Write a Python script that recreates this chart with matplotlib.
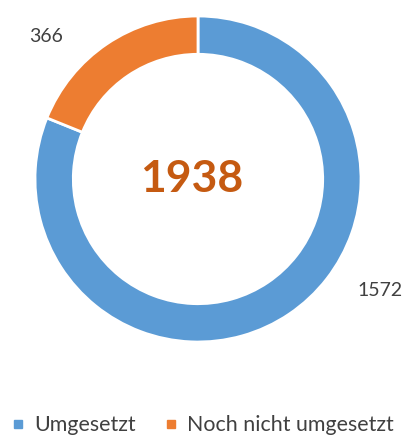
import matplotlib
matplotlib.use("Agg")
import matplotlib.pyplot as plt
from matplotlib.lines import Line2D

plt.rcParams['font.family'] = ['Lato', 'DejaVu Sans']

labels = ['Umgesetzt', 'Noch nicht umgesetzt']
values = [1572, 366]
colors = ['#5B9BD5', '#ED7D31']
total = sum(values)

fig = plt.figure(figsize=(4.03, 4.38), dpi=100)
ax = fig.add_axes([35 / 403, 96 / 438, 326 / 403, 326 / 438])

wedges, _ = ax.pie(values, colors=colors, startangle=90, counterclock=False,
                   radius=1.0,
                   wedgeprops=dict(width=0.235, edgecolor='white', linewidth=2))
ax.set_xlim(-1, 1)
ax.set_ylim(-1, 1)
ax.axis('off')

ax.text(-0.037, 0, str(total), ha='center', va='center', fontsize=32,
        fontweight='bold', color='#C55A11')

# value labels outside the ring
fig.text(46 / 403, 1 - 37 / 438, str(values[1]), ha='center', va='center',
         fontsize=14, color='#404040')
fig.text(380 / 403, 1 - 291 / 438, str(values[0]), ha='center', va='center',
         fontsize=14, color='#404040')

handles = [Line2D([], [], marker='s', linestyle='none', markersize=5.5,
                  markerfacecolor=c, markeredgecolor=c) for c in colors]
fig.legend(handles, labels, loc='center left', bbox_to_anchor=(11 / 403, 1 - 425 / 438),
           ncol=2, frameon=False, fontsize=15.4, handletextpad=0.38,
           columnspacing=1.3, labelcolor='#404040', handlelength=0.7,
           borderpad=0, borderaxespad=0)

fig.savefig('out.png', dpi=100)
